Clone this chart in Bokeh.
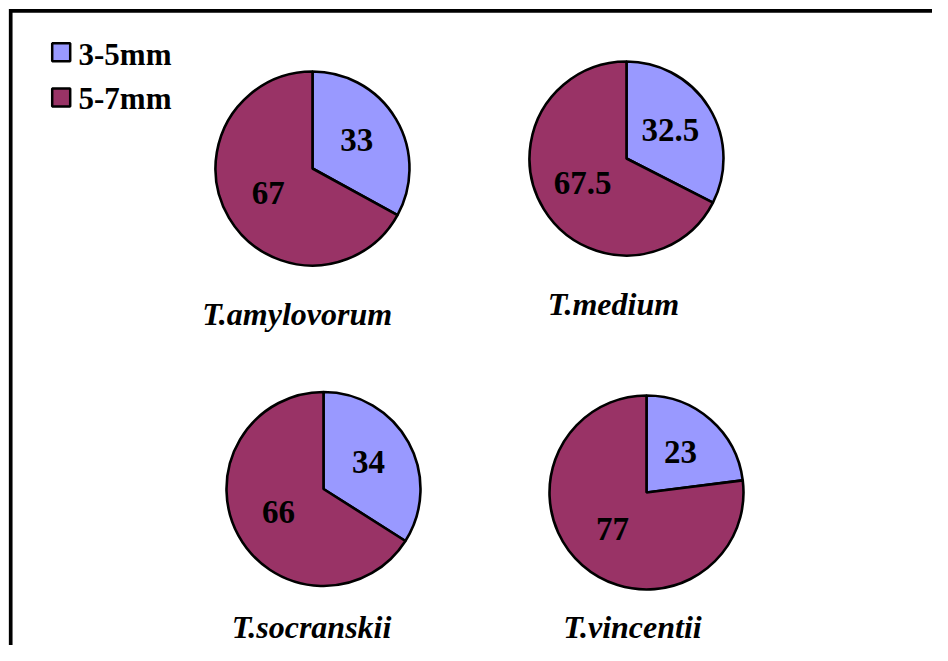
import math
from bokeh.plotting import figure
from bokeh.models import ColumnDataSource, Range1d
from bokeh.core.properties import value
from bokeh.embed import file_html
from bokeh.resources import INLINE

# ---- data ----
species = ["T.amylovorum", "T.medium", "T.socranskii", "T.vincentii"]
size_classes = ["3-5mm", "5-7mm"]
pct_3_5 = [33, 32.5, 34, 23]
pct_5_7 = [67, 67.5, 66, 77]
class_colors = ["#9999FF", "#993366"]

# ---- layout (figure pixel coordinates, y up) ----
W, H = 932, 645
pie_centers = [(312, 477), (626, 487), (323, 156.5), (646, 153)]
R = 97
label_pos = [(296.7, 332), (613, 342), (311, 19), (632, 19)]
FONT = value("Liberation Serif")

p = figure(width=W, height=H, x_range=Range1d(0, W), y_range=Range1d(0, H),
           output_backend="svg", toolbar_location=None,
           x_axis_location=None, y_axis_location=None, min_border=0)
p.grid.visible = False
p.outline_line_color = None
p.background_fill_color = "white"
p.border_fill_color = "white"

# chart border (only left and top edges are inside the view)
p.line(x=[10.2, 10.2, W + 5], y=[-5, H - 10.3, H - 10.3], line_color="black",
       line_width=3.7, line_join="miter")

xs, ys, starts, ends, fills = [], [], [], [], []
tx, ty, tt = [], [], []
for i, (cx, cy) in enumerate(pie_centers):
    vals = [pct_3_5[i], pct_5_7[i]]
    total = sum(vals)
    a = math.pi / 2
    for j, v in enumerate(vals):
        sweep = 2 * math.pi * v / total
        xs.append(cx); ys.append(cy)
        starts.append(a); ends.append(a - sweep)
        fills.append(class_colors[j])
        mid = a - sweep / 2
        tx.append(cx + 0.53 * R * math.cos(mid))
        ty.append(cy + 0.53 * R * math.sin(mid))
        tt.append(f"{v:g}")
        a -= sweep

src = ColumnDataSource(dict(x=xs, y=ys, s=starts, e=ends, c=fills))
p.wedge(x="x", y="y", radius=R, start_angle="s", end_angle="e", direction="clock",
        fill_color="c", line_color="black", line_width=2.6, source=src)

p.text(x=tx, y=ty, text=tt, text_font=FONT, text_font_style="bold",
       text_font_size="33px", text_align="center", text_baseline="middle",
       text_color="black", y_offset=-2)

p.text(x=[l[0] for l in label_pos], y=[l[1] for l in label_pos], text=species,
       text_font=FONT, text_font_style="bold italic", text_font_size="32px",
       text_align="center", text_baseline="alphabetic", text_color="black")

# legend
leg_x = [60.7, 60.7]
leg_y = [593.3, 548]
p.scatter(x=leg_x, y=leg_y, marker="square", size=18, fill_color=class_colors,
          line_color="black", line_width=2.5)
p.text(x=[78, 78], y=[591, 547], text=size_classes, text_font=FONT,
       text_font_style="bold", text_font_size="31px", text_align="left",
       text_baseline="alphabetic", text_color="black")

open("out.html", "w").write(file_html(p, INLINE))
